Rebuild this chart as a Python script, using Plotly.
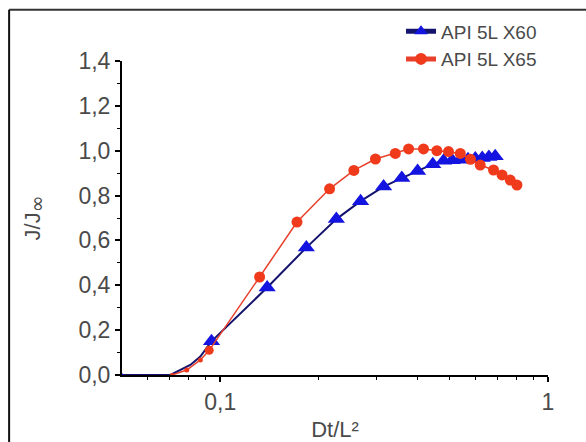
import plotly.graph_objects as go

# ---- data ----
x60 = [0.0502, 0.067, 0.0704, 0.081, 0.0869, 0.094, 0.139, 0.183, 0.226, 0.268,
       0.315, 0.358, 0.40, 0.445, 0.48, 0.51, 0.54, 0.57, 0.60, 0.63, 0.66, 0.69]
y60 = [0.0, 0.0, 0.0, 0.045, 0.082, 0.15, 0.39, 0.568, 0.695, 0.775,
       0.84, 0.878, 0.91, 0.94, 0.955, 0.958, 0.96, 0.962, 0.965, 0.968, 0.972, 0.975]

x65 = [0.0712, 0.079, 0.0869, 0.0925, 0.1318, 0.1714, 0.2155, 0.2556, 0.2975, 0.342,
       0.3755, 0.417, 0.458, 0.497, 0.54, 0.58, 0.621, 0.682, 0.724, 0.767, 0.804]
y65 = [0.0, 0.022, 0.067, 0.11, 0.437, 0.682, 0.830, 0.912, 0.963, 0.988,
       1.008, 1.008, 1.0, 0.996, 0.988, 0.962, 0.936, 0.914, 0.892, 0.869, 0.847]

series_names = ["API 5L X60", "API 5L X65"]
x_tickvals = [0.1, 1]
x_ticktext = ["0,1", "1"]
x_minor = [0.06, 0.07, 0.08, 0.09, 0.2, 0.3, 0.4, 0.5, 0.6, 0.7, 0.8, 0.9]
y_tickvals = [0, 0.2, 0.4, 0.6, 0.8, 1.0, 1.2, 1.4]

# ---- styling ----
size60 = [4, 0, 0, 0, 0] + [15] * (len(x60) - 5)
size65 = [4, 5, 5, 9] + [11] * (len(x65) - 4)

fig = go.Figure()
fig.add_trace(go.Scatter(
    x=x60, y=y60, name=series_names[0], mode="lines+markers",
    line=dict(color="#14146e", width=2),
    marker=dict(symbol="triangle-up", size=size60, color="#1414e0",
                opacity=1, line=dict(width=0)),
))
fig.add_trace(go.Scatter(
    x=x65, y=y65, name=series_names[1], mode="lines+markers",
    line=dict(color="#e8402a", width=1.5),
    marker=dict(symbol="circle", size=size65, color="#f03a1c",
                opacity=1, line=dict(width=0)),
))

txt = "#4a4a4a"
font = "Liberation Sans, Arial, sans-serif"

fig.update_layout(
    width=586, height=442,
    margin=dict(l=122, r=38, t=61, b=67, autoexpand=False),
    paper_bgcolor="white", plot_bgcolor="white",
    separators=",.",
    font=dict(family=font, color=txt),
    showlegend=True,
    legend=dict(
        x=0.655, y=1.155, xanchor="left", yanchor="top",
        xref="paper", yref="paper",
        bgcolor="rgba(0,0,0,0)", borderwidth=0,
        font=dict(size=19, color=txt, family=font),
        tracegroupgap=0, itemsizing="constant",
    ),
    xaxis=dict(
        type="log", range=[-1.3, 0], automargin=False,
        showgrid=False, zeroline=False,
        showline=True, linecolor="black", linewidth=2,
        ticks="outside", ticklen=5, tickwidth=1.5, tickcolor="black",
        tickvals=x_tickvals, ticktext=x_ticktext,
        tickfont=dict(size=23, color=txt),
        minor=dict(tickvals=x_minor, ticks="outside", ticklen=3,
                   tickcolor="black", tickwidth=1.2, showgrid=False),
        title=dict(text="Dt/L²", font=dict(size=22, color=txt), standoff=10),
    ),
    yaxis=dict(
        range=[0, 1.4], automargin=False,
        showgrid=False, zeroline=False,
        showline=True, linecolor="black", linewidth=2,
        ticks="outside", ticklen=5, tickwidth=1.5, tickcolor="black",
        tickvals=y_tickvals,
        tickformat=".1f",
        tickfont=dict(size=23, color=txt),
        minor=dict(dtick=0.1, ticks="outside", ticklen=3,
                   tickcolor="black", tickwidth=1.2, showgrid=False),
        title=dict(text="J/J<sub><span style='font-family:DejaVu Sans;font-size:20px'>∞</span></sub>",
                   font=dict(size=22, color=txt), standoff=32),
    ),
    shapes=[
        dict(type="line", xref="paper", yref="paper",
             x0=-0.265, x1=1.2, y0=1.163, y1=1.163,
             line=dict(color="#333333", width=2)),
        dict(type="line", xref="paper", yref="paper",
             x0=-0.265, x1=-0.265, y0=1.163, y1=-0.3,
             line=dict(color="#111111", width=2)),
    ],
)

fig.write_html("out.html", config={"displayModeBar": False},
               post_script="document.body.style.margin='0';")
